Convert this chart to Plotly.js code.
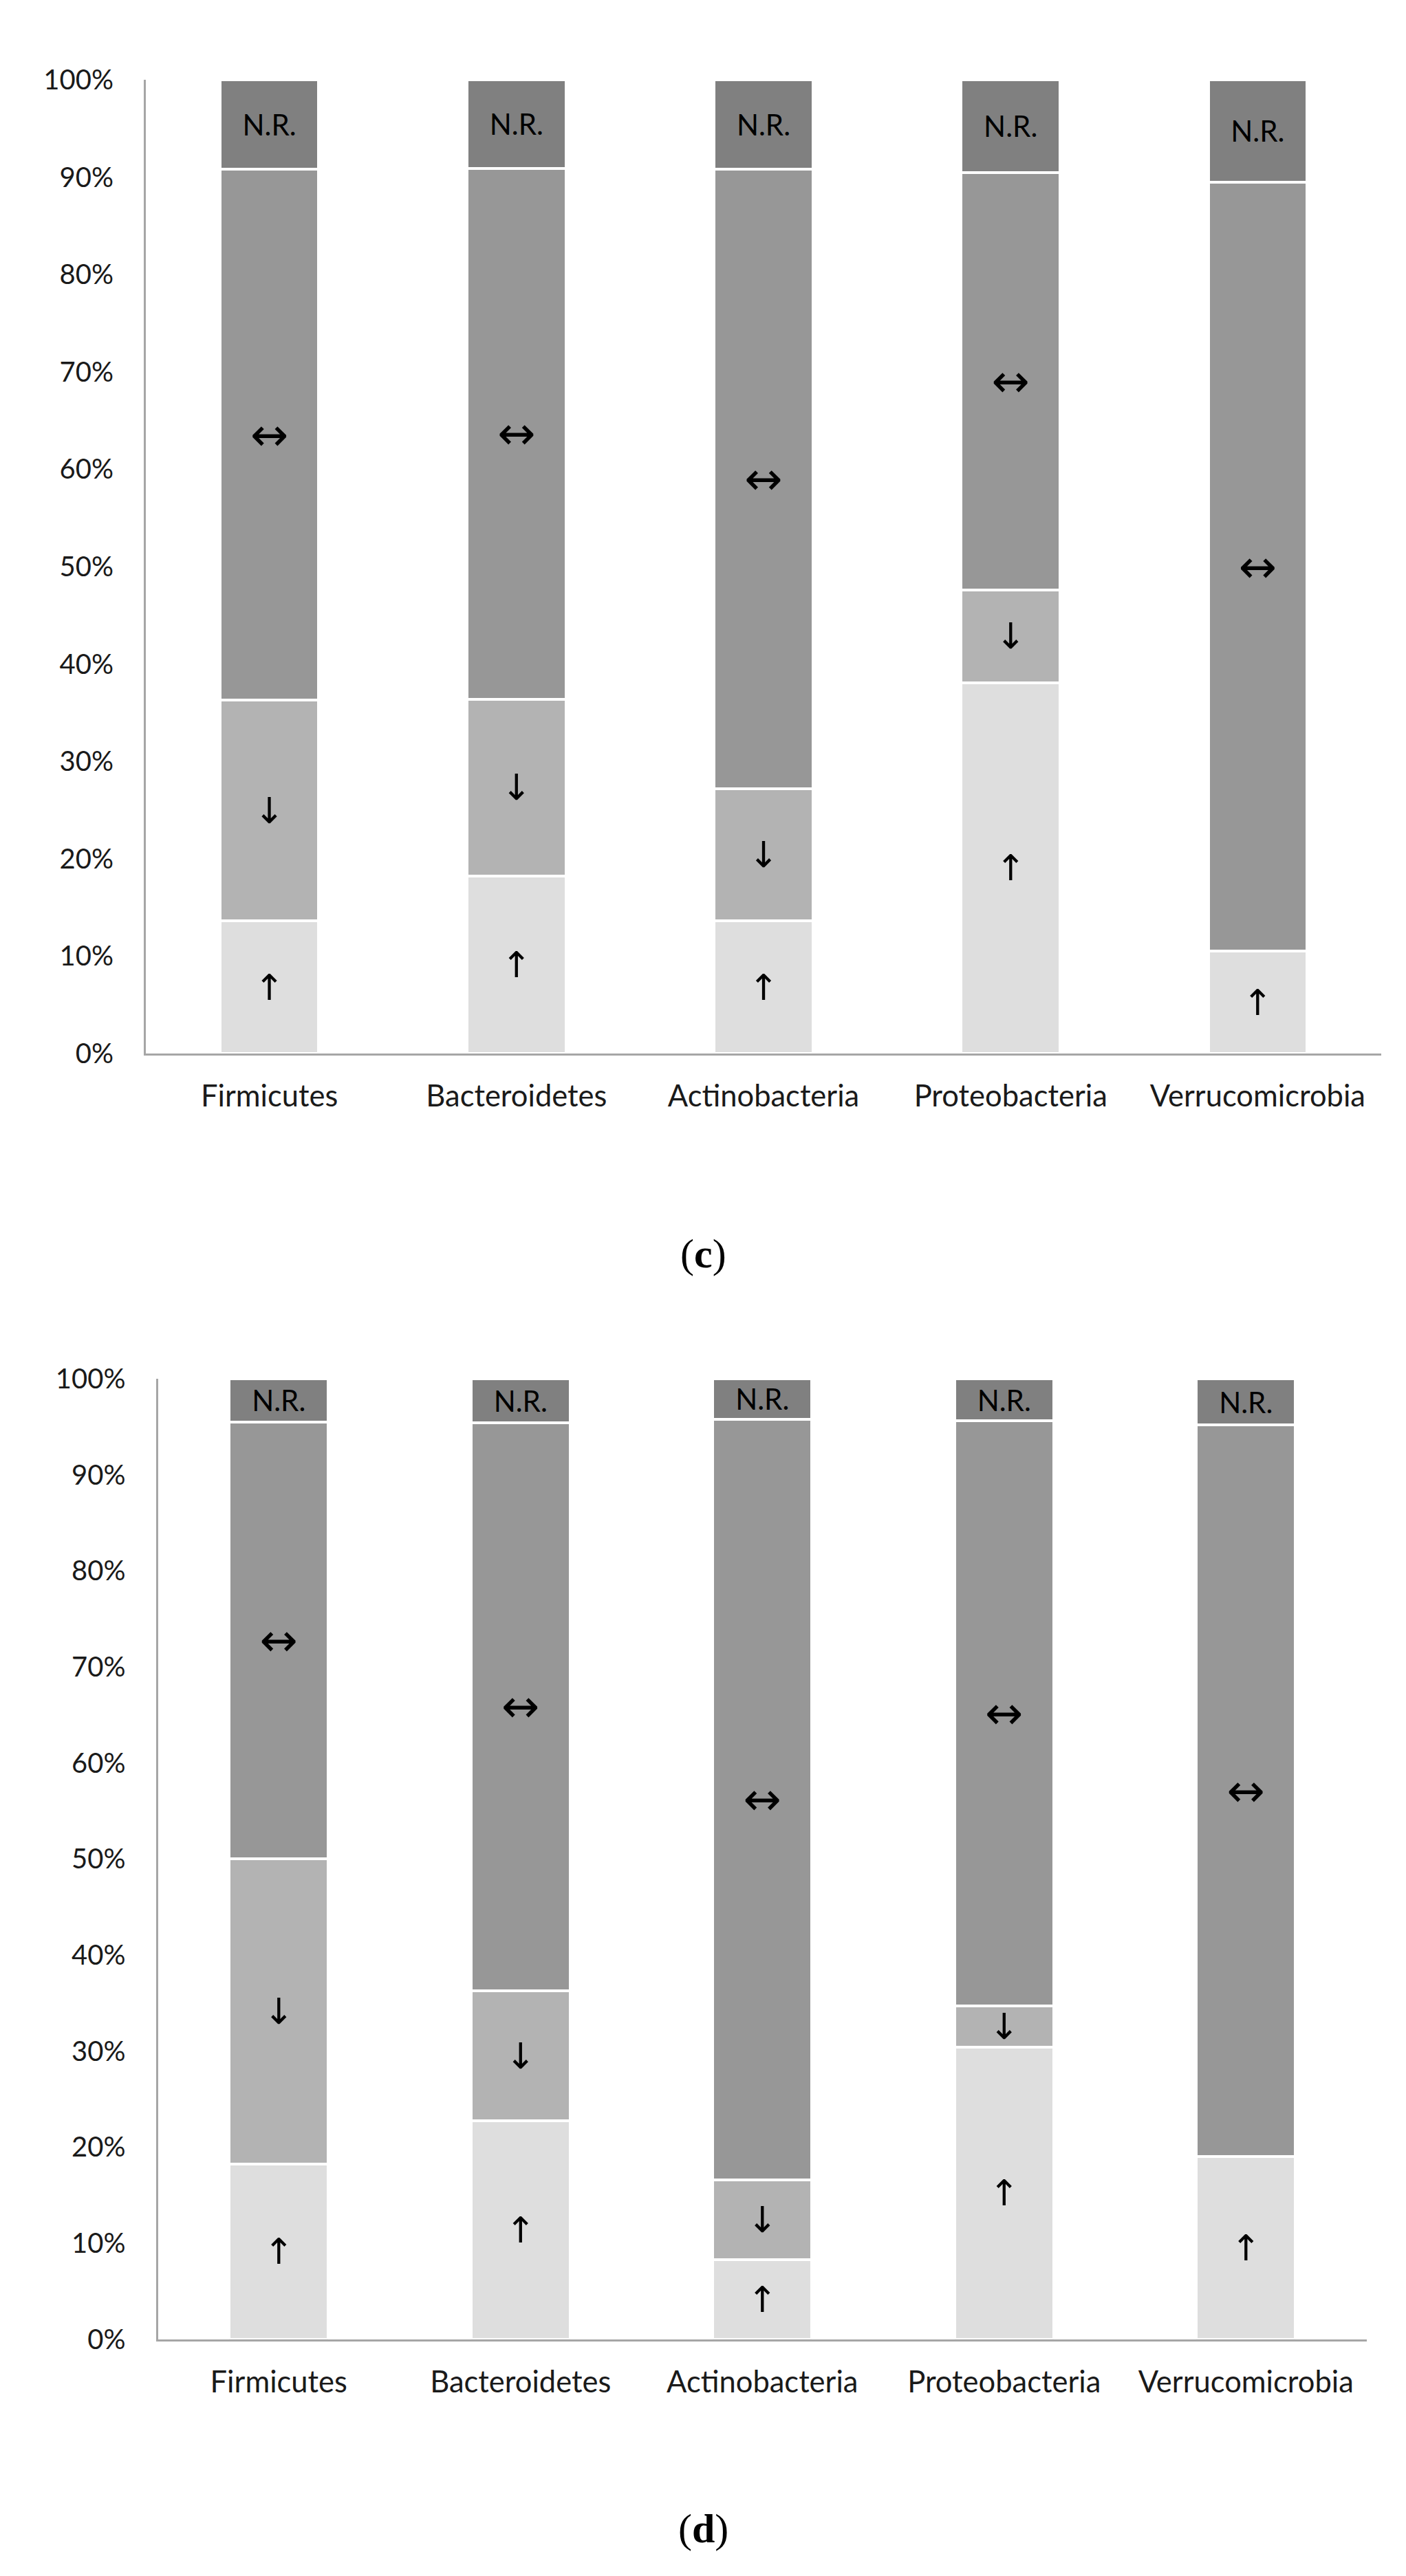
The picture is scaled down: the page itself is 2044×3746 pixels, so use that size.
<!DOCTYPE html>
<html>
<head>
<meta charset="utf-8">
<script src="https://cdn.plot.ly/plotly-3.0.1.min.js"></script>
<style>html,body{margin:0;padding:0;background:#fff;}#chart{width:2044px;height:3746px;}</style>
</head>
<body>
<div id="chart"></div>
<script>
// Categories (phyla)
const categories = ['Firmicutes', 'Bacteroidetes', 'Actinobacteria', 'Proteobacteria', 'Verrucomicrobia'];

// Panel (c) – percentage of studies per outcome
const cUp       = [13.6, 18.2, 13.6, 38.1, 10.5];
const cDown     = [22.7, 18.2, 13.6,  9.5,  0.0];
const cNoChange = [54.5, 54.5, 63.6, 42.9, 79.0];
const cNR       = [ 9.2,  9.1,  9.2,  9.5, 10.5];

// Panel (d)
const dUp       = [18.2, 22.7,  8.3, 30.4, 19.0];
const dDown     = [31.8, 13.6,  8.3,  4.3,  0.0];
const dNoChange = [45.5, 59.1, 79.2, 60.9, 76.2];
const dNR       = [ 4.5,  4.6,  4.2,  4.4,  4.8];

// Segment labels
const segLabels = {up: '↑', down: '↓', same: '↔', nr: 'N.R.'};
const yTickVals = [0, 10, 20, 30, 40, 50, 60, 70, 80, 90, 100];
const panelCaptions = ['(<b>c</b>)', '(<b>d</b>)'];

const colors = {up: '#dedede', down: '#b3b3b3', same: '#979797', nr: '#808080'};
const labelFont = 'Lato, "Open Sans", sans-serif';
const arrowFont = '"DejaVu Sans", sans-serif';

function makeTraces(vals, xa, ya, w) {
  const keys = ['up', 'down', 'same', 'nr'];
  return keys.map((k, i) => ({
    type: 'bar',
    x: categories,
    y: vals[i],
    xaxis: xa,
    yaxis: ya,
    width: w,
    marker: {color: colors[k], line: {color: '#ffffff', width: 4}},
    text: vals[i].map(v => v > 0 ? segLabels[k] : ''),
    textposition: 'inside',
    insidetextanchor: 'middle',
    textangle: 0,
    constraintext: 'none',
    textfont: k === 'nr'
      ? {family: labelFont, size: 42, color: '#000'}
      : {family: arrowFont, size: k === 'same' ? 66 : 52, color: '#000'},
    hoverinfo: 'skip',
    showlegend: false
  }));
}

const traces = [
  ...makeTraces([cUp, cDown, cNoChange, cNR], 'x', 'y', 0.40),
  ...makeTraces([dUp, dDown, dNoChange, dNR], 'x2', 'y2', 0.41)
];

const W = 2044, H = 3746;
function yAxis(top, bottom) {
  return {
    domain: [1 - bottom / H, 1 - top / H],
    range: [0, 100],
    tickvals: yTickVals,
    ticktext: yTickVals.map(v => v + '%'),
    showgrid: false,
    zeroline: false,
    showline: true,
    linecolor: '#a6a6a6',
    linewidth: 3,
    ticks: '',
    ticklabelstandoff: 36,
    tickfont: {family: labelFont, size: 40, color: '#1a1a1a'},
    fixedrange: true
  };
}
function xAxis(left, right, anchor) {
  return {
    domain: [left / W, right / W],
    anchor: anchor,
    showgrid: false,
    zeroline: false,
    showline: true,
    linecolor: '#a6a6a6',
    linewidth: 3,
    ticks: '',
    ticklabelstandoff: 22,
    tickfont: {family: labelFont, size: 43.5, color: '#1a1a1a'},
    fixedrange: true
  };
}

const layout = {
  width: W,
  height: H,
  margin: {l: 0, r: 0, t: 0, b: 0},
  paper_bgcolor: '#ffffff',
  plot_bgcolor: '#ffffff',
  barmode: 'stack',
  showlegend: false,
  xaxis: xAxis(212, 2008, 'y'),
  yaxis: Object.assign(yAxis(116, 1532), {anchor: 'x'}),
  xaxis2: xAxis(229.5, 1987, 'y2'),
  yaxis2: Object.assign(yAxis(2005, 3401.5), {anchor: 'x2'}),
  annotations: [
    {text: panelCaptions[0], xref: 'paper', yref: 'paper', x: 0.5, y: 1 - 1823 / H,
     xanchor: 'center', yanchor: 'middle', showarrow: false,
     font: {family: '"Liberation Serif", serif', size: 60, color: '#000'}},
    {text: panelCaptions[1], xref: 'paper', yref: 'paper', x: 0.5, y: 1 - 3677 / H,
     xanchor: 'center', yanchor: 'middle', showarrow: false,
     font: {family: '"Liberation Serif", serif', size: 60, color: '#000'}}
  ]
};

Plotly.newPlot('chart', traces, layout, {staticPlot: true, displayModeBar: false});
</script>
</body>
</html>
